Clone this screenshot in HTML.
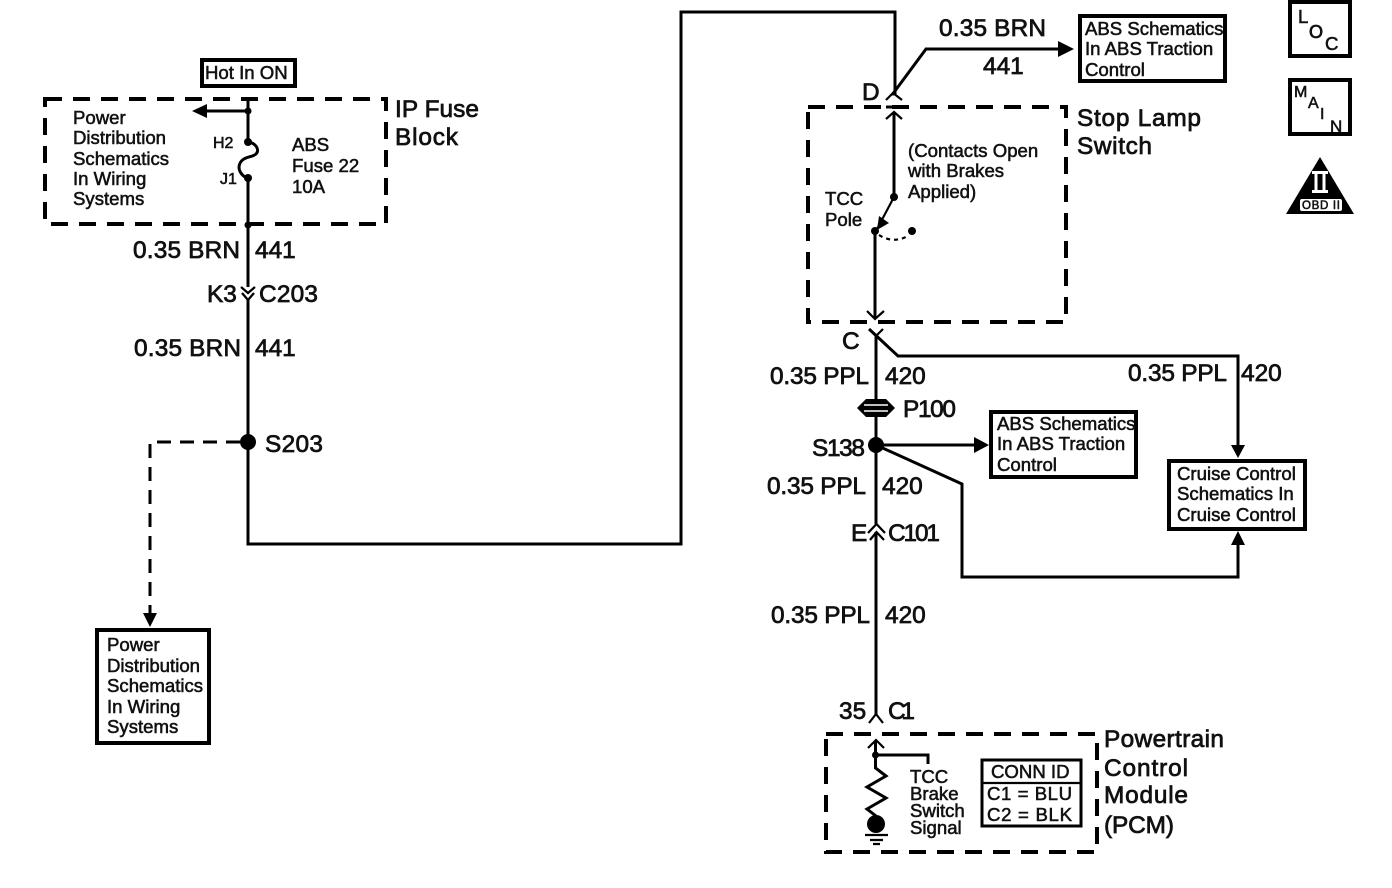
<!DOCTYPE html>
<html><head><meta charset="utf-8"><style>
html,body{margin:0;padding:0;background:#fff;width:1392px;height:888px;overflow:hidden}
svg{display:block}
text{font-family:"Liberation Sans",sans-serif;fill:#111;stroke:#111}
.l{font-size:24.4px;stroke-width:.75}
.m{font-size:18.6px;stroke-width:.55}
.w{fill:none;stroke:#000;stroke-width:3}
.t{fill:none;stroke:#000;stroke-width:2.2}
.d{fill:none;stroke:#000;stroke-width:4;stroke-dasharray:17 11}
.b{fill:#fff;stroke:#000;stroke-width:4}
.f{fill:#000;stroke:none}
</style></head><body>
<svg width="1392" height="888" viewBox="0 0 1392 888" xmlns="http://www.w3.org/2000/svg">
<!-- dashed boxes -->
<rect class="d" x="45" y="99" width="341" height="125"/>
<rect class="d" x="808" y="107" width="258" height="215"/>
<rect class="d" x="826" y="734" width="271" height="118"/>

<!-- main left wire -->
<path class="w" d="M248 98V142M248 178V287M248 300V544H681V12H895V95"/>
<path class="w" d="M248 142C256 143 260 150 256 154C252 158 240 156 239 167C239 172 243 177 248 178"/>
<path class="t" d="M241 287L248 293L255 287M242 293L248 300L254 293"/>
<circle class="f" cx="248" cy="111" r="3.5"/>
<circle class="f" cx="248" cy="142" r="4"/>
<circle class="f" cx="248" cy="178" r="4"/>
<circle class="f" cx="248" cy="225" r="3.5"/>
<path class="w" d="M248 111H205"/>
<path class="f" d="M192 111L207 104V118Z"/>
<circle class="f" cx="248" cy="442" r="8"/>
<path class="w" stroke-dasharray="14 9" d="M240 442H150V614"/>
<path class="f" d="M143 613H157L150 627Z"/>

<!-- top right -->
<path class="w" d="M892 95L926 49H1060"/>
<path class="f" d="M1058 41V57L1074 49Z"/>
<path class="t" d="M886 100L893 93L902 100"/>
<path class="w" d="M886 107H903M894 113V197"/>
<path class="t" d="M886 119L894 112L902 119"/>
<circle class="f" cx="894" cy="197" r="4"/>
<path class="t" d="M894 197L876 231"/>
<path class="f" d="M877 230L879 216L889 223Z"/>
<circle class="f" cx="875" cy="231" r="4"/>
<circle class="f" cx="912" cy="231" r="4"/>
<path class="t" stroke-dasharray="4 4" d="M879 235Q893 244 908 236"/>
<path class="w" d="M875 231V318"/>
<path class="t" d="M867 311L875 319L884 311"/>
<path class="t" d="M883 329L875 337"/>
<path class="w" d="M869 329L898 356H1238V446"/>
<path class="f" d="M1231 445H1245L1238 458Z"/>
<path class="w" d="M876 337V400"/>

<!-- P100 -->
<path class="w" d="M876 416V445"/>
<path class="f" d="M857 408L866 399H886L895 408L886 417H866Z"/>
<path d="M864 405H888M864 411H888" stroke="#fff" stroke-width="1.6"/>

<!-- S138 -->
<circle class="f" cx="876" cy="445" r="8"/>
<path class="w" d="M876 445H975"/>
<path class="f" d="M974 437V453L989 445Z"/>
<path class="w" d="M876 445L962 484V577H1238V543"/>
<path class="f" d="M1231 545H1245L1238 531Z"/>
<path class="w" d="M876 445V524M876 532V716"/>
<path class="t" d="M868 533L876.500 524L885 533M870 540L876.500 532L884 540"/>

<!-- 35 C1 connector -->
<path class="t" d="M869 723L876 714L883 723"/>

<!-- PCM internal -->
<path class="t" d="M868 748L876 740L884 748"/>
<path class="w" d="M875.500 741V768L886 776L867 787L886 798L867 809L876 816"/>
<circle class="f" cx="875.500" cy="755" r="3.5"/>
<path class="w" d="M876 755H928V764"/>
<circle class="f" cx="876" cy="824" r="9"/>
<path class="t" d="M865 835H888M870 840H883M873 844H880"/>

<!-- boxes -->
<rect class="b" x="202" y="60" width="93" height="26" stroke-width="3"/>
<rect class="b" x="97" y="630" width="112" height="113"/>
<rect class="b" x="1080" y="16" width="145" height="65"/>
<rect class="b" x="991" y="412" width="145" height="65"/>
<rect class="b" x="1169" y="461" width="136" height="68"/>
<rect class="b" x="982" y="760" width="99" height="66" style="stroke-width:3"/>
<path class="t" d="M982 783H1081"/>
<rect class="b" x="1290" y="2" width="60" height="54"/>
<rect class="b" x="1290" y="80" width="60" height="54"/>
<path class="f" d="M1320 157L1354 214H1286Z"/>
<rect x="1300" y="199" width="42" height="12" rx="2" fill="#fff"/>
<rect x="1312" y="171" width="16" height="3" fill="#fff"/>
<rect x="1312" y="190" width="16" height="3" fill="#fff"/>
<rect x="1314.500" y="174" width="3" height="16" fill="#fff"/>
<rect x="1322.500" y="174" width="3" height="16" fill="#fff"/>

<!-- text -->
<text class="m" x="205" y="79">Hot In ON</text>
<text class="m" x="73" y="124">Power</text>
<text class="m" x="73" y="144">Distribution</text>
<text class="m" x="73" y="165">Schematics</text>
<text class="m" x="73" y="185">In Wiring</text>
<text class="m" x="73" y="205">Systems</text>
<text class="m" x="213" y="148" style="font-size:16px">H2</text>
<text class="m" x="220" y="184" style="font-size:16px">J1</text>
<text class="m" x="292" y="151">ABS</text>
<text class="m" x="292" y="172">Fuse 22</text>
<text class="m" x="292" y="193">10A</text>
<text class="l" x="395" y="117" textLength="84">IP Fuse</text>
<text class="l" x="395" y="145" textLength="63">Block</text>
<text class="l" x="133" y="258" textLength="107">0.35 BRN</text>
<text class="l" x="255" y="258">441</text>
<text class="l" x="207" y="302">K3</text>
<text class="l" x="259" y="302" textLength="59">C203</text>
<text class="l" x="134" y="356" textLength="107">0.35 BRN</text>
<text class="l" x="255" y="356">441</text>
<text class="l" x="265" y="452" textLength="58">S203</text>
<text class="m" x="107" y="651">Power</text>
<text class="m" x="107" y="672">Distribution</text>
<text class="m" x="107" y="692">Schematics</text>
<text class="m" x="107" y="713">In Wiring</text>
<text class="m" x="107" y="733">Systems</text>

<text class="l" x="939" y="36" textLength="107">0.35 BRN</text>
<text class="l" x="983" y="74">441</text>
<text class="l" x="862" y="100">D</text>
<text class="m" x="1085" y="35">ABS Schematics</text>
<text class="m" x="1085" y="55">In ABS Traction</text>
<text class="m" x="1085" y="76">Control</text>
<text class="l" x="1077" y="126" textLength="124">Stop Lamp</text>
<text class="l" x="1077" y="154" textLength="75">Switch</text>
<text class="m" x="908" y="157">(Contacts Open</text>
<text class="m" x="908" y="177">with Brakes</text>
<text class="m" x="908" y="198">Applied)</text>
<text class="m" x="825" y="205">TCC</text>
<text class="m" x="825" y="226">Pole</text>
<text class="l" x="842" y="349">C</text>

<text class="l" x="770" y="384" textLength="99">0.35 PPL</text>
<text class="l" x="885" y="384">420</text>
<text class="l" x="1128" y="381" textLength="99">0.35 PPL</text>
<text class="l" x="1241" y="381">420</text>
<text class="l" x="903" y="417" textLength="53">P100</text>
<text class="l" x="812" y="456" textLength="53">S138</text>
<text class="m" x="997" y="430">ABS Schematics</text>
<text class="m" x="997" y="450">In ABS Traction</text>
<text class="m" x="997" y="471">Control</text>
<text class="l" x="767" y="494" textLength="99">0.35 PPL</text>
<text class="l" x="882" y="494">420</text>
<text class="m" x="1177" y="480">Cruise Control</text>
<text class="m" x="1177" y="500">Schematics In</text>
<text class="m" x="1177" y="521">Cruise Control</text>
<text class="l" x="851" y="541">E</text>
<text class="l" x="888" y="541" textLength="52">C101</text>
<text class="l" x="771" y="623" textLength="99">0.35 PPL</text>
<text class="l" x="885" y="623">420</text>
<text class="l" x="839" y="719">35</text>
<text class="l" x="888" y="719" textLength="27">C1</text>
<text class="l" x="1104" y="747" textLength="120">Powertrain</text>
<text class="l" x="1104" y="776" textLength="84">Control</text>
<text class="l" x="1104" y="803" textLength="84">Module</text>
<text class="l" x="1104" y="833" textLength="70">(PCM)</text>
<text class="m" x="910" y="783">TCC</text>
<text class="m" x="910" y="800">Brake</text>
<text class="m" x="910" y="817">Switch</text>
<text class="m" x="910" y="834">Signal</text>
<text class="m" x="991" y="778">CONN ID</text>
<text class="m" x="987" y="800" textLength="85">C1 = BLU</text>
<text class="m" x="987" y="821" textLength="85">C2 = BLK</text>

<text class="m" x="1298" y="23">L</text>
<text class="l" x="1309" y="38" style="font-size:18px">O</text>
<text class="m" x="1325" y="50">C</text>
<text class="m" x="1294" y="97" style="font-size:16px">M</text>
<text class="m" x="1308" y="108" style="font-size:16px">A</text>
<text class="m" x="1320" y="119" style="font-size:16px">I</text>
<text class="m" x="1330" y="132" style="font-size:17px">N</text>
<text class="m" x="1302" y="209" style="font-size:11.500px" textLength="38">OBD II</text>
</svg>
</body></html>
